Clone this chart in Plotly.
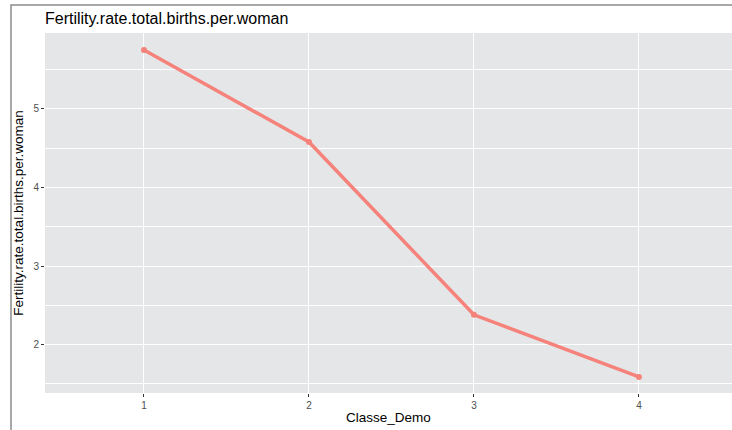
import plotly.graph_objects as go

classe_demo = [1, 2, 3, 4]
fertilite = [5.75, 4.58, 2.38, 1.59]
ticks_x = ["1", "2", "3", "4"]
ticks_y = [2, 3, 4, 5]

cor = "#F5837C"
cinza = "#4D4D4D"

W, H = 732, 430

fig = go.Figure()
fig.add_trace(go.Scatter(x=classe_demo, y=fertilite, mode="lines+markers",
                         line=dict(color=cor, width=3.5),
                         marker=dict(color=cor, size=6),
                         showlegend=False, hoverinfo="x+y"))

fig.update_layout(
    width=W, height=H,
    margin=dict(l=45, r=0, t=33, b=37, autoexpand=False),
    paper_bgcolor="white", plot_bgcolor="#E5E6E8",
    font=dict(family="Liberation Sans, Arial, sans-serif", color="black"),
    title=dict(text="Fertility.rate.total.births.per.woman", x=45 / W, xref="container",
               xanchor="left", y=1 - 18 / H, yanchor="middle", yref="container",
               font=dict(size=16, color="black"), automargin=False),
    xaxis=dict(range=[0.4, 4.564], tickvals=classe_demo, ticktext=ticks_x,
               showgrid=True, gridcolor="white", gridwidth=1.4, zeroline=False,
               ticks="outside", ticklen=3, tickcolor="#333333", automargin=False,
               tickfont=dict(size=10, color=cinza),
               title=dict(text="Classe_Demo", font=dict(size=13.5), standoff=2)),
    yaxis=dict(range=[1.385, 5.966], tickvals=ticks_y, automargin=False,
               showgrid=True, gridcolor="white", gridwidth=1.4, zeroline=False,
               ticks="outside", ticklen=3, tickcolor="#333333",
               tickfont=dict(size=10, color=cinza),
               minor=dict(dtick=0.5, tick0=1.5, showgrid=True, gridcolor="white",
                          gridwidth=0.6, ticks=""),
               title=dict(text="Fertility.rate.total.births.per.woman",
                          font=dict(size=13.5), standoff=6)),
)

# moldura cinza em volta (topo e esquerda), em pixels da figura
fig.add_shape(type="rect", xref="paper", yref="paper",
              x0=(11 - 45) / 687, x1=1.2, y0=-0.3, y1=(393 - 5) / 360,
              line=dict(color="#8C8C8C", width=1.5), fillcolor="rgba(0,0,0,0)",
              layer="above")

# tira a margem padrao do body pra figura ocupar a janela toda
fig.write_html("out.html", config={"displayModeBar": False},
               post_script="document.body.style.margin='0px';document.body.style.overflow='hidden';")
